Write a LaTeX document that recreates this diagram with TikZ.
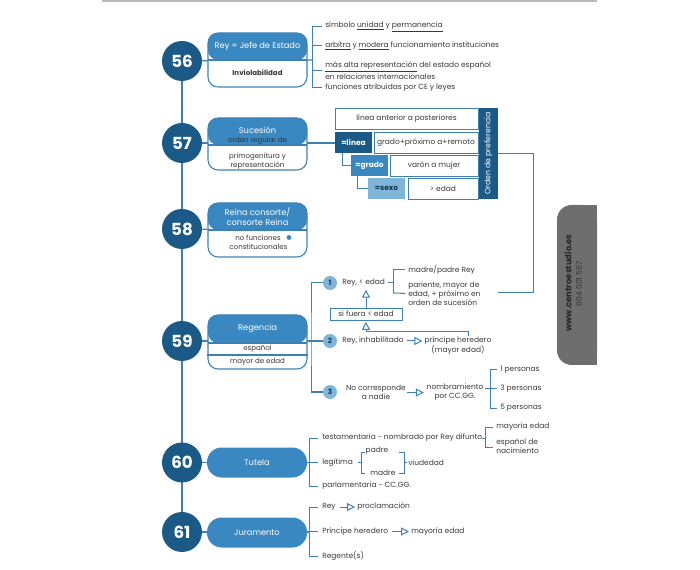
\documentclass[tikz,border=0pt]{standalone}
\usepackage{fontspec}
\setmainfont{Poppins}
\usetikzlibrary{arrows.meta,backgrounds}
\definecolor{dkblue}{HTML}{1B5A86}
\definecolor{midblue}{HTML}{3A88C1}
\definecolor{ltblue}{HTML}{80B5DA}
\definecolor{lnblue}{HTML}{3C80B4}
\definecolor{txtgrey}{HTML}{3A3A3A}
\definecolor{tabgrey}{HTML}{6E6E6E}
\begin{document}
\begin{tikzpicture}[x=0.75pt,y=-0.75pt,
  txt/.style={font=\fontsize{5.6}{6.6}\selectfont, text=txtgrey, inner sep=0pt, anchor=west, align=left},
  ctxt/.style={txt, anchor=center, align=center},
  ln/.style={draw=lnblue, line width=0.75pt},
  tl/.style={draw=lnblue, line width=1pt},
  num/.style={circle, fill=dkblue, minimum size=30pt, inner sep=0pt, text=white, font=\fontsize{12.5}{12.5}\selectfont\bfseries},
  sub/.style={circle, fill=ltblue, minimum size=10.5pt, inner sep=0pt, text=dkblue!70!black, font=\fontsize{5.5}{5.5}\selectfont\bfseries},
  card/.style={draw=lnblue, line width=0.8pt, rounded corners=7.5pt, fill=white, minimum width=74.25pt, inner sep=0pt,
    path picture={\fill[midblue] (path picture bounding box.north west) rectangle ([yshift=-#1]path picture bounding box.north east);
      \draw[lnblue, line width=0.8pt] ([yshift=-#1]path picture bounding box.north west) -- ([yshift=-#1]path picture bounding box.north east);}},
  pill/.style={fill=midblue, rounded corners=11pt, minimum width=75pt, minimum height=22.5pt, inner sep=0pt, text=white, font=\fontsize{6.2}{7}\selectfont},
  head/.style={text=white, font=\fontsize{6.2}{7.4}\selectfont, align=center, inner sep=0pt},
  sublbl/.style={text=txtgrey, font=\fontsize{5.3}{5.6}\selectfont, align=center, inner sep=0pt},
  obox/.style={draw=lnblue, line width=0.7pt, fill=white, minimum height=15.75pt, inner sep=0pt, font=\fontsize{5.6}{6.6}\selectfont, text=txtgrey},
  eqbox/.style={minimum width=27.75pt, minimum height=15.75pt, inner sep=0pt, text=white, font=\fontsize{5.6}{6.6}\selectfont\bfseries},
  opentip/.style={-{Triangle[open, length=6pt, width=6pt]}},
]
\useasboundingbox (0,0) rectangle (700,570);
\draw[gray!55, line width=1.2pt] (102,1) -- (597,1);

% ---------- timeline circles ----------
\node[num] (c56) at (182,61) {56};
\node[num] (c57) at (182,143) {57};
\node[num] (c58) at (182,229) {58};
\node[num] (c59) at (182,341) {59};
\node[num] (c60) at (182,462.5) {60};
\node[num] (c61) at (182,532) {61};

% ---------- cards ----------
\node[card=20.25pt, minimum height=40.5pt] (b56) at (257.5,60) {};
\node[head] (h56) at (257.5,46.5) {Rey = Jefe de Estado};
\node[sublbl, font=\fontsize{5.3}{5.6}\selectfont\bfseries] (s56) at (257.5,73) {Inviolabilidad};

\node[card=20.25pt, minimum height=39pt] (b57) at (257.5,144) {};
\node[head] (h57) at (257.5,130) {Sucesión};
\node[sublbl, text=black!80] (o57) at (257.5,141) {orden regular de};
\node[sublbl] (s57) at (257.5,161.5) {primogenitura y\\representación};

\node[card=20.25pt, minimum height=40.5pt] (b58) at (257.5,230) {};
\node[head] (h58) at (257.5,216.5) {Reina consorte/\\consorte Reina};
\node[sublbl] (s58a) at (258,238) {no funciones};
\node[circle, fill=midblue, minimum size=3.6pt, inner sep=0pt] (i58) at (289,237.5) {};
\node[sublbl] (s58b) at (258.5,247) {constitucionales};

\node[card=21pt, minimum height=40.5pt] (b59) at (257.5,342) {};
\draw[lnblue, line width=0.8pt] (b59.west |- 0,355) -- (b59.east |- 0,355);
\node[head] (h59) at (257.5,328) {Regencia};
\node[sublbl] (s59a) at (257.5,348.5) {español};
\node[sublbl] (s59b) at (257.5,362) {mayor de edad};

\node[pill] (b60) at (257,462.5) {Tutela};
\node[pill] (b61) at (257,532.5) {Juramento};

% ---------- 56 ----------
\node[txt] (t56a) at (325,27) {símbolo \underline{unidad} y \underline{permanencia}};
\node[txt] (t56b) at (325,46) {\underline{arbitra} y \underline{modera} funcionamiento instituciones};
\node[txt] (t56c) at (325,70.5) {\underline{más alta representación} del estado español\\[0.6pt]en relaciones internacionales};
\node[txt] (t56d) at (325,88) {funciones atribuidas por CE y leyes};
\coordinate (k56) at (312,60);

% ---------- 57 ----------
\node[obox, minimum width=107.25pt] (o1) at (406.5,118.5) {línea anterior a posteriores};
\node[eqbox, fill=dkblue] (eqlinea) at (353.5,142.5) {=línea};
\node[obox, minimum width=78pt] (o2) at (426,142.5) {grado+próximo a+remoto};
\node[eqbox, fill=midblue] (eqgrado) at (369.5,165.5) {=grado};
\node[obox, minimum width=66pt] (o3) at (434,165.5) {varón a mujer};
\node[eqbox, fill=ltblue, text=dkblue!60!black] (eqsexo) at (386.5,188.5) {=sexo};
\node[obox, minimum width=52.5pt] (o4) at (443,188.5) {> edad};
\node[fill=dkblue, minimum width=14.25pt, minimum height=68.25pt, inner sep=0pt] (orden) at (488.5,153.5) {};
\node[rotate=90, text=white, font=\fontsize{5.8}{6.6}\selectfont, inner sep=0pt] (ordent) at (orden.center) {Orden de preferencia};
\coordinate (ordend) at (498,293);

% ---------- 59 ----------
\node[sub] (n1) at (330,283) {1};
\node[sub] (n2) at (330,341) {2};
\node[sub] (n3) at (330,392) {3};
\coordinate (k59) at (311,341);
\node[txt] (r1) at (342,283) {Rey, < edad};
\node[txt] (m1) at (408,270) {madre/padre Rey};
\node[txt] (p1) at (408,293.5) {pariente, mayor de\\edad, + próximo en\\orden de sucesión};
\node[draw=lnblue, line width=0.7pt, minimum width=54pt, minimum height=9pt, inner sep=0pt, font=\fontsize{5.6}{6.6}\selectfont, text=txtgrey] (sif) at (366,314) {si fuera < edad};
\node[txt] (r2) at (342,341) {Rey, inhabilitado};
\node[ctxt] (ph) at (458,345.5) {príncipe heredero\\(mayor edad)};
\node[ctxt] (r3) at (376,392.5) {No corresponde\\a nadie};
\node[ctxt] (nb) at (455,392.5) {nombramiento\\por CC.GG.};
\node[txt] (q1) at (500,370) {1 personas};
\node[txt] (q3) at (500,389) {3 personas};
\node[txt] (q5) at (500,408) {5 personas};

% ---------- 60 ----------
\node[txt] (tt) at (322,438) {testamentaria - nombrado por Rey difunto};
\node[txt] (lg) at (322,462.5) {legítima};
\node[txt] (pa) at (322,486) {parlamentaria - CC.GG.};
\node[txt] (my) at (496,427) {mayoría edad};
\node[txt] (es) at (496,446) {español de\\nacimiento};
\node[ctxt] (pd) at (377,451) {padre};
\node[ctxt] (md) at (383,473) {madre};
\node[txt] (vd) at (408,462.5) {viudedad};

% ---------- 61 ----------
\node[txt] (ry) at (322,507) {Rey};
\node[txt] (pc) at (357,507) {proclamación};
\node[txt] (pr) at (322,531.5) {Príncipe heredero};
\node[txt] (me) at (411,531.5) {mayoría edad};
\node[txt] (rg) at (322,556) {Regente(s)};

% ---------- side tab ----------
\fill[tabgrey, rounded corners=11pt] (557,205) rectangle (597,365);
\fill[tabgrey] (580,205) rectangle (597,365);
\node[rotate=90, font=\fontsize{6.3}{7}\selectfont\bfseries, text=black!85, inner sep=0pt] (web) at (568,283) {www.centroestudio.es};
\node[rotate=90, font=\fontsize{5.8}{7}\selectfont, text=black!80, inner sep=0pt] (tel) at (579,284) {604 001 567};

% ---------- connectors ----------
\begin{scope}[on background layer]
\draw[tl] (c56) -- (c61);
\draw[tl] (c56) -- (k56);
\draw[tl] (c57) -- (c57 -| eqlinea.west);
\draw[tl] (c58) -- (b58);
\draw[tl] (c59) -- (n2);
\draw[tl] (c60) -- (309,462.5);
\draw[tl] (c61) -- (309,532);
\end{scope}

% 56 bracket
\draw[ln] (312,27) -- (312,88);
\foreach \t in {t56a,t56b,t56c,t56d} \draw[ln, shorten >=2pt] (312,0 |- \t.west) -- (\t.west);

% 57
\draw[ln] ([xshift=6pt]eqlinea.south west) |- (eqgrado.west);
\draw[ln] ([xshift=5.25pt]eqgrado.south west) |- (eqsexo.west);
\draw[ln] (orden.east) -- ++(35,0) |- (ordend);

% 59
\draw[ln] (n1) -| (k59) |- (n3);
\draw[ln, shorten <=2pt] (r1.east) -- (393,283);
\draw[ln] (393,270) -- (393,293);
\draw[ln, shorten >=2pt] (393,270) -- (m1.west);
\draw[ln, shorten >=2pt] (393,293) -- (p1.west);
\draw[ln, opentip, shorten >=2pt] (sif.north) -- (sif.north |- r1.south);
\draw[ln, opentip, shorten >=1pt] ([xshift=7.5pt]ph.north) -- ++(0,-5) -| (sif.south);
\draw[ln, opentip, shorten <=2pt, shorten >=1.5pt] (r2.east) -- (ph.west |- r2.east);
\draw[ln, opentip, shorten <=1pt, shorten >=2pt] (r3.east) -- (nb.west);
\draw[ln, shorten <=1pt] (nb.east |- q3.west) -- (490,389);
\draw[ln] (490,370) -- (490,408);
\foreach \q in {q1,q3,q5} \draw[ln, shorten >=2pt] (490,0 |- \q.west) -- (\q.west);

% 60
\draw[ln] (309,438) -- (309,486);
\foreach \t in {tt,lg,pa} \draw[ln, shorten >=3pt] (309,0 |- \t.west) -- (\t.west);
\draw[ln] (tt.east) -- (485,438);
\draw[ln] (485,427) -- (485,447);
\draw[ln, shorten >=2pt] (485,427) -- (my.west);
\draw[ln, shorten >=2pt] (485,447) -- (496,447);
\draw[ln, shorten <=3.5pt] (lg.east) -- (361,462.5);
\draw[ln] (365,452) -- (361,452) -- (361,473) -- (365,473);
\draw[ln] (399,452) -- (404,452) -- (404,473) -- (399,473);
\draw[ln, shorten >=1pt] (404,462.5) -- (vd.west);

% 61
\draw[ln] (309,507) -- (309,556);
\foreach \t in {ry,pr,rg} \draw[ln, shorten >=3pt] (309,0 |- \t.west) -- (\t.west);
\draw[ln, opentip, shorten <=3pt, shorten >=1.5pt] (ry.east) -- (pc.west);
\draw[ln, opentip, shorten <=2.5pt, shorten >=1.5pt] (pr.east) -- (me.west);
\end{tikzpicture}
\end{document}
